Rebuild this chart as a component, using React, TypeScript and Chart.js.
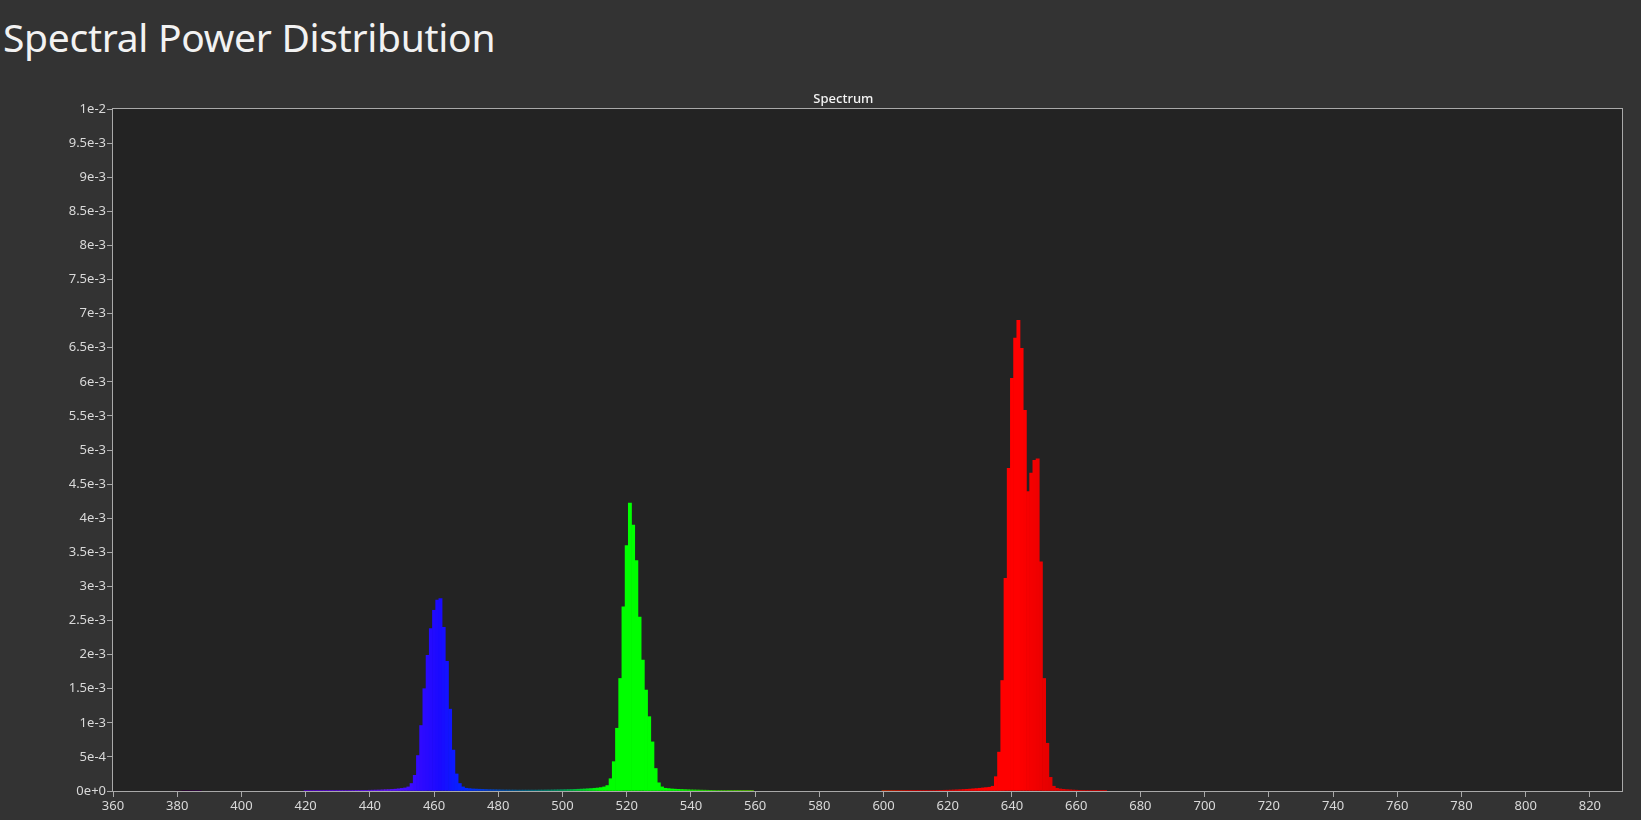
import React, { useEffect, useRef } from "react";
import { Chart, registerables } from "chart.js";

Chart.register(...registerables);

// ---- text ----
const pageTitle = "Spectral Power Distribution";
const plotTitle = "Spectrum";

// ---- axes ----
const xMin = 360;
const xMax = 830;
const xStep = 20;
const yMin = 0;
const yMax = 0.01;
const yStep = 0.0005;

// ---- series (1 nm bins), each starting at the given wavelength ----
const violetStart = 380;
const violetValues = [0, 0, 2e-6, 4e-6, 5e-6, 4e-6, 3e-6, 2e-6];

const blueStart = 420;
const blueValues = [
  3e-6, 3e-6, 3e-6, 4e-6, 4e-6, 4e-6, 5e-6, 5e-6, 5e-6, 6e-6, // 420-429
  6e-6, 6e-6, 7e-6, 7e-6, 8e-6, 8e-6, 9e-6, 9e-6, 1e-5, 1e-5, // 430-439
  1.1e-5, 1.2e-5, 1.3e-5, 1.4e-5, 1.6e-5, 1.8e-5, 2e-5, 2.3e-5, 2.7e-5, 3.2e-5, // 440-449
  3.8e-5, 4.5e-5, 6e-5, 1.1e-4, 2.3e-4, 5.2e-4, 9.6e-4, 1.5e-3, 1.99e-3, 2.38e-3, // 450-459
  2.65e-3, 2.8e-3, 2.82e-3, 2.4e-3, 1.9e-3, 1.2e-3, 6e-4, 2.5e-4, 1.1e-4, 6e-5, // 460-469
  4e-5, 3.5e-5, 3e-5, 2.8e-5, 2.6e-5, 2.4e-5, 2.2e-5, 2e-5, 1.9e-5, 1.8e-5, // 470-479
  1.7e-5, 1.6e-5, 1.5e-5, 1.5e-5, 1.4e-5, 1.4e-5, 1.3e-5, 1.3e-5, 1.3e-5, 1.3e-5, // 480-489
  1.3e-5, 1.3e-5, 1.3e-5, 1.4e-5, 1.4e-5, 1.5e-5, 1.5e-5, 1.6e-5, 1.7e-5, 1.8e-5, // 490-499
];

const greenStart = 500;
const greenValues = [
  1.9e-5, 2e-5, 2.1e-5, 2.2e-5, 2.4e-5, 2.6e-5, 2.8e-5, 3e-5, 3.3e-5, 3.6e-5, // 500-509
  4e-5, 4.4e-5, 5e-5, 6e-5, 8e-5, 1.8e-4, 4.3e-4, 9.2e-4, 1.65e-3, 2.7e-3, // 510-519
  3.6e-3, 4.22e-3, 3.9e-3, 3.38e-3, 2.55e-3, 1.92e-3, 1.48e-3, 1.09e-3, 7.2e-4, 3.3e-4, // 520-529
  1.2e-4, 6e-5, 4e-5, 3.5e-5, 3e-5, 2.7e-5, 2.4e-5, 2.2e-5, 2e-5, 1.8e-5, // 530-539
  1.6e-5, 1.5e-5, 1.4e-5, 1.3e-5, 1.2e-5, 1.1e-5, 1e-5, 9e-6, 8e-6, 8e-6, // 540-549
  7e-6, 7e-6, 6e-6, 6e-6, 5e-6, 5e-6, 5e-6, 4e-6, 4e-6, 4e-6, // 550-559
];

const redStart = 600;
const redValues = [
  2e-6, 2e-6, 2e-6, 3e-6, 3e-6, 3e-6, 3e-6, 4e-6, 4e-6, 4e-6, // 600-609
  5e-6, 5e-6, 6e-6, 6e-6, 7e-6, 7e-6, 8e-6, 9e-6, 1e-5, 1.1e-5, // 610-619
  1.2e-5, 1.3e-5, 1.5e-5, 1.7e-5, 1.9e-5, 2.2e-5, 2.5e-5, 2.8e-5, 3.2e-5, 3.6e-5, // 620-629
  4e-5, 4.5e-5, 5e-5, 5.5e-5, 7e-5, 2.1e-4, 5.7e-4, 1.62e-3, 3.12e-3, 4.73e-3, // 630-639
  6.05e-3, 6.64e-3, 6.9e-3, 6.49e-3, 5.58e-3, 4.39e-3, 4.66e-3, 4.85e-3, 4.87e-3, 3.36e-3, // 640-649
  1.65e-3, 7e-4, 2e-4, 7e-5, 4e-5, 3e-5, 2.5e-5, 2e-5, 1.7e-5, 1.4e-5, // 650-659
  1.2e-5, 1e-5, 9e-6, 8e-6, 7e-6, 6e-6, 5e-6, 5e-6, 4e-6, 4e-6, // 660-669
];

// ---- colour of a wavelength (style) ----
const colourStops: [number, [number, number, number]][] = [
  [380, [40, 0, 40]],
  [420, [80, 0, 190]],
  [445, [100, 20, 255]],
  [455, [50, 10, 255]],
  [462, [26, 10, 255]],
  [470, [0, 40, 255]],
  [485, [0, 90, 150]],
  [500, [0, 150, 90]],
  [512, [0, 255, 0]],
  [535, [0, 255, 0]],
  [550, [60, 200, 0]],
  [580, [140, 120, 0]],
  [610, [200, 0, 0]],
  [630, [255, 0, 0]],
  [642, [255, 0, 0]],
  [652, [228, 0, 0]],
  [700, [160, 0, 0]],
  [830, [90, 0, 0]],
];

function colourOf(w: number): string {
  if (w <= colourStops[0][0]) {
    const c = colourStops[0][1];
    return `rgb(${c[0]},${c[1]},${c[2]})`;
  }
  for (let i = 1; i < colourStops.length; i++) {
    const [w1, c1] = colourStops[i];
    const [w0, c0] = colourStops[i - 1];
    if (w <= w1) {
      const t = (w - w0) / (w1 - w0);
      const r = Math.round(c0[0] + (c1[0] - c0[0]) * t);
      const g = Math.round(c0[1] + (c1[1] - c0[1]) * t);
      const b = Math.round(c0[2] + (c1[2] - c0[2]) * t);
      return `rgb(${r},${g},${b})`;
    }
  }
  const c = colourStops[colourStops.length - 1][1];
  return `rgb(${c[0]},${c[1]},${c[2]})`;
}

const seriesList: [number, number[]][] = [
  [violetStart, violetValues],
  [blueStart, blueValues],
  [greenStart, greenValues],
  [redStart, redValues],
];

const FONT = "'Noto Sans', 'Open Sans', sans-serif";
const PAGE_BG = "#333333";
const PLOT_BG = "#232323";
const LINE = "#a9a9a9";
const TEXT = "#d9d9d9";

function fmtExp(v: number | string): string {
  const n = Number(Number(v).toPrecision(8));
  return n.toExponential();
}

const framePlugin = {
  id: "frame",
  beforeDatasetsDraw(chart: any) {
    const { ctx, chartArea: a } = chart;
    ctx.save();
    ctx.fillStyle = PLOT_BG;
    ctx.fillRect(a.left, a.top, a.right - a.left, a.bottom - a.top);
    ctx.restore();
  },
  afterDraw(chart: any) {
    const { ctx, chartArea: a } = chart;
    ctx.save();
    ctx.strokeStyle = LINE;
    ctx.lineWidth = 1;
    ctx.strokeRect(Math.round(a.left) - 0.5, Math.round(a.top) - 0.5, Math.round(a.right - a.left) + 1, Math.round(a.bottom - a.top) + 1);
    ctx.fillStyle = "#f4f4f4";
    ctx.font = `500 13px ${FONT}`;
    ctx.textAlign = "center";
    ctx.textBaseline = "alphabetic";
    ctx.fillText(plotTitle, a.left + (a.right - a.left) * 0.484, a.top - 6);
    ctx.restore();
  },
};

export default function App() {
  const canvasRef = useRef<HTMLCanvasElement | null>(null);

  useEffect(() => {
    if (!canvasRef.current) return;
    const points: { x: number; y: number }[] = [];
    const colours: string[] = [];
    for (const [start, values] of seriesList) {
      values.forEach((v, i) => {
        const w = start + i;
        points.push({ x: w, y: v });
        colours.push(colourOf(w));
      });
    }

    const chart = new Chart(canvasRef.current, {
      type: "bar",
      data: {
        datasets: [
          {
            data: points as any,
            backgroundColor: colours,
            borderWidth: 0,
            barPercentage: 1,
            categoryPercentage: 1,
          },
        ],
      },
      options: {
        animation: false,
        responsive: false,
        maintainAspectRatio: false,
        layout: { padding: { top: 109, right: 19, left: 0, bottom: 0 } },
        plugins: {
          legend: { display: false },
          tooltip: { enabled: false },
          title: { display: false },
        },
        scales: {
          x: {
            type: "linear",
            min: xMin,
            max: xMax,
            offset: false,
            ticks: {
              stepSize: xStep,
              includeBounds: false,
              autoSkip: false,
              maxRotation: 0,
              color: TEXT,
              font: { family: FONT, size: 13 },
              padding: 1,
            },
            grid: {
              offset: false,
              drawOnChartArea: false,
              drawTicks: true,
              tickLength: 6,
              tickColor: LINE,
              tickWidth: 1,
            },
            border: { display: true, color: LINE, width: 1 },
            afterFit: (s: any) => {
              s.height = 29;
            },
          } as any,
          y: {
            type: "linear",
            min: yMin,
            max: yMax,
            ticks: {
              stepSize: yStep,
              autoSkip: false,
              color: TEXT,
              font: { family: FONT, size: 13 },
              padding: 1,
              callback: (v: any) => fmtExp(v),
            },
            grid: {
              drawOnChartArea: false,
              drawTicks: true,
              tickLength: 6,
              tickColor: LINE,
              tickWidth: 1,
            },
            border: { display: true, color: LINE, width: 1 },
            afterFit: (s: any) => {
              s.width = 113;
            },
          } as any,
        },
      },
      plugins: [framePlugin],
    });
    return () => chart.destroy();
  }, []);

  return (
    <div
      style={{
        position: "fixed",
        left: 0,
        top: 0,
        width: 1641,
        height: 820,
        background: PAGE_BG,
        overflow: "hidden",
      }}
    >
      <div
        style={{
          position: "absolute",
          left: 3,
          top: 9,
          fontFamily: FONT,
          fontSize: 39,
          lineHeight: "56px",
          color: "#f2f2f2",
          whiteSpace: "nowrap",
          letterSpacing: "-0.3px",
        }}
      >
        {pageTitle}
      </div>
      <canvas
        ref={canvasRef}
        width={1641}
        height={820}
        style={{ position: "absolute", left: 0, top: 0, width: 1641, height: 820 }}
      />
    </div>
  );
}
